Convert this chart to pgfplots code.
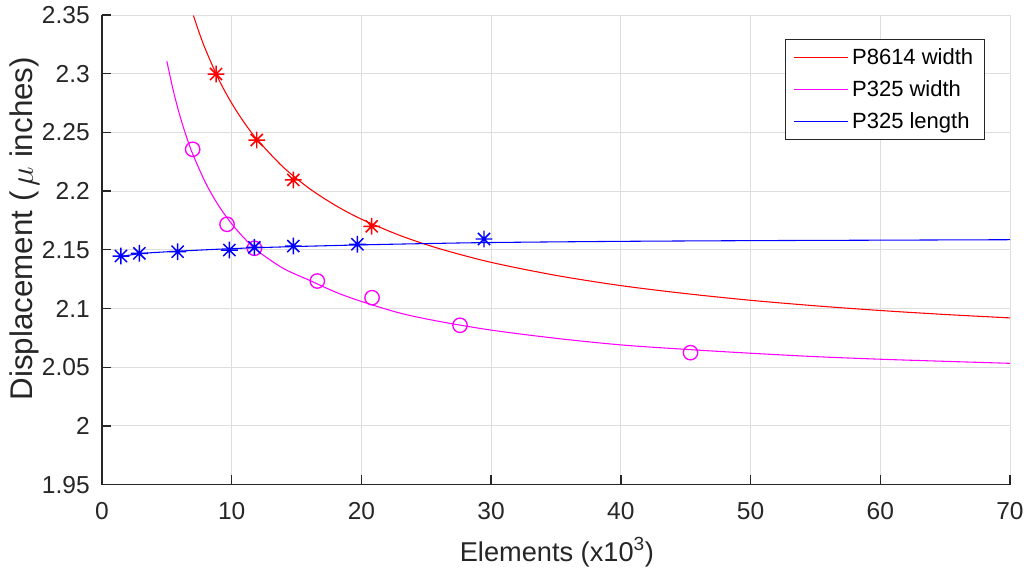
\documentclass[border=0pt]{standalone}
\usepackage{pgfplots}
\pgfplotsset{compat=1.18}
\usepackage{fontspec}
\setmainfont{Liberation Sans}
\definecolor{axgray}{HTML}{262626}
\definecolor{gridgray}{HTML}{DEDEDE}
\definecolor{mred}{HTML}{FF0000}
\definecolor{mmag}{HTML}{FF00FF}
\definecolor{mblue}{HTML}{0000FF}
\pgfdeclareplotmark{mstar}{%
  \pgfpathmoveto{\pgfpoint{-\pgfplotmarksize}{0pt}}%
  \pgfpathlineto{\pgfpoint{\pgfplotmarksize}{0pt}}%
  \pgfpathmoveto{\pgfpoint{0pt}{-\pgfplotmarksize}}%
  \pgfpathlineto{\pgfpoint{0pt}{\pgfplotmarksize}}%
  \pgfpathmoveto{\pgfpoint{-0.72\pgfplotmarksize}{-0.72\pgfplotmarksize}}%
  \pgfpathlineto{\pgfpoint{0.72\pgfplotmarksize}{0.72\pgfplotmarksize}}%
  \pgfpathmoveto{\pgfpoint{-0.72\pgfplotmarksize}{0.72\pgfplotmarksize}}%
  \pgfpathlineto{\pgfpoint{0.72\pgfplotmarksize}{-0.72\pgfplotmarksize}}%
  \pgfusepathqstroke}
\begin{document}
\begin{tikzpicture}
\path[use as bounding box] (0,0) rectangle (769.5pt,426.75pt);
\begin{axis}[
  at={(76.5pt,63.3pt)}, anchor=south west,
  scale only axis, width=681pt, height=352.2pt,
  xmin=0, xmax=70, ymin=1.95, ymax=2.35,
  axis x line*=bottom, axis y line*=left,
  axis line style={draw=axgray, line width=1pt, -},
  xtick={0,10,20,30,40,50,60,70},
  xticklabels={0,10,20,30,40,50,60,70},
  ytick={1.95,2,2.05,2.1,2.15,2.2,2.25,2.3,2.35},
  yticklabels={1.95,2,2.05,2.1,2.15,2.2,2.25,2.3,2.35},
  tick align=inside,
  major tick length=7pt,
  tick style={draw=axgray, line width=1pt},
  grid=major,
  major grid style={draw=gridgray, line width=0.75pt},
  ticklabel style={font=\fontsize{18.4}{22}\selectfont, text=axgray},
  yticklabel style={inner sep=0pt, anchor=east, xshift=-9pt},
  xticklabel style={inner sep=0pt, anchor=north, yshift=-13.5pt},
  xlabel={Elements (x10\textsuperscript{3})},
  ylabel={Displacement (\,$\mu$ inches)},
  xlabel style={font=\fontsize{20.4}{24}\selectfont, text=axgray, inner sep=0pt, anchor=base, at={(axis description cs:0.501,-0.1627)}},
  ylabel style={font=\fontsize{23.5}{28}\selectfont, text=axgray, inner sep=0pt, anchor=base, rotate=0, at={(axis description cs:-0.076,0.545)}},
  legend style={at={(0.9725,0.9489)}, anchor=north east, draw=axgray, line width=0.75pt, fill=white,
    font=\fontsize{16.5}{19}\selectfont, inner xsep=6pt, inner ysep=4.5pt, row sep=5.5pt,
    nodes={inner sep=2.5pt, text=black}},
  legend cell align=left,
  legend image code/.code={\draw[#1, line width=0.8pt] (0pt,0pt) -- (40.5pt,0pt);},
]
\addplot[draw=mred, line width=0.8pt, smooth, no marks] coordinates {
(7.05,2.3495) (7.5,2.3347) (8,2.3201) (9,2.2951) (10,2.2748) (11,2.2578) (12,2.2434)
(14,2.2201) (16,2.2021) (18,2.1878) (20,2.1761) (23,2.1621) (26,2.1510) (30,2.1393)
(35,2.1282) (40,2.1195) (45,2.1127) (50,2.1070) (55,2.1023) (60,2.0983) (65,2.0949) (70,2.0920)};
\addlegendentry{P8614 width}
\addplot[draw=mmag, line width=0.8pt, smooth, no marks] coordinates {
(5,2.3106) (5.5,2.2854) (6,2.2644) (6.5,2.2467) (7,2.2314) (8,2.2067) (9,2.1874) (10,2.1721)
(11,2.1595) (12,2.1490) (14,2.1340) (16,2.1240) (18,2.1140) (20,2.1060) (23,2.0960) (26,2.0890)
(30,2.0816) (35,2.0746) (40,2.0690) (45,2.0652) (50,2.0619) (55,2.0590) (60,2.0568) (65,2.0550) (70,2.0533)};
\addlegendentry{P325 width}
\addplot[draw=mblue, line width=0.8pt, smooth, no marks] coordinates {
(1.46,2.1443) (3,2.1468) (5,2.1483) (8,2.1500) (10,2.1510) (12,2.1518) (15,2.1528) (20,2.1542)
(25,2.1553) (30,2.1562) (40,2.1572) (50,2.1578) (60,2.1582) (70,2.1586)};
\addlegendentry{P325 length}
\addplot[forget plot, only marks, mark=mstar, mark size=6.3pt, mark options={draw=mred, line width=1.1pt}] coordinates {
(8.79,2.2997) (11.93,2.2435) (14.75,2.2095) (20.79,2.1700)};
\addplot[forget plot, only marks, mark=o, mark size=5.4pt, mark options={draw=mmag, line width=1pt, fill=none}] coordinates {
(6.99,2.2356) (9.64,2.1717) (11.75,2.1513) (16.6,2.1234) (20.82,2.1092) (27.6,2.0857) (45.37,2.0624)};
\addplot[forget plot, only marks, mark=mstar, mark size=6.3pt, mark options={draw=mblue, line width=1.1pt}] coordinates {
(1.46,2.1447) (2.88,2.1470) (5.83,2.1484) (9.82,2.1498) (11.75,2.1521) (14.75,2.1532) (19.69,2.1547) (29.45,2.1592)};
\end{axis}
\end{tikzpicture}
\end{document}
